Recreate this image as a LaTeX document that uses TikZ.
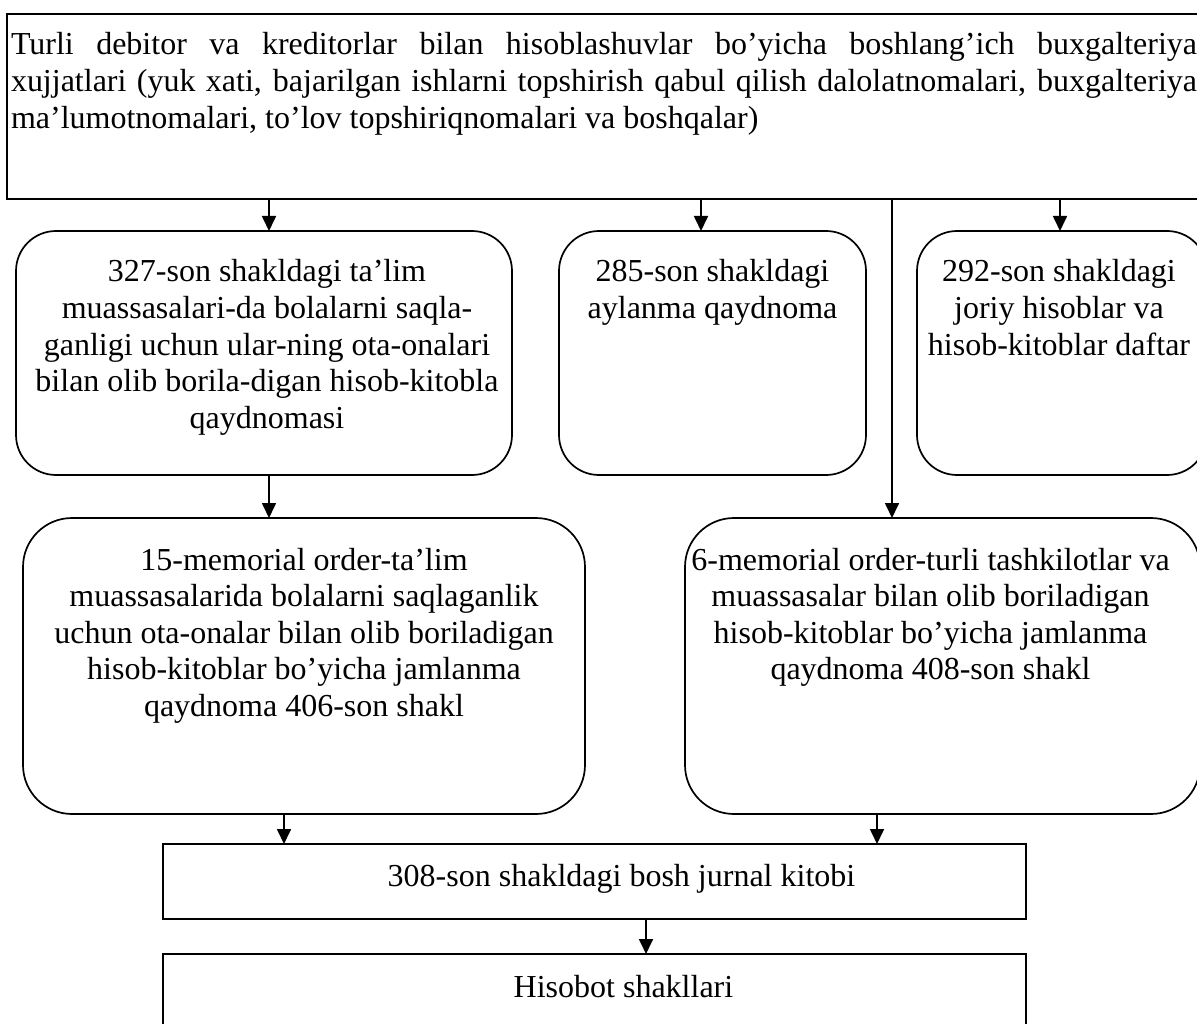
\documentclass[tikz,border=0pt]{standalone}
\usepackage{fontspec}
\setmainfont{Liberation Serif}
\usetikzlibrary{arrows.meta}

\tikzset{
  frame/.style={draw, line width=1.7pt, inner sep=0pt, outer sep=0pt},
  sqbox/.style={frame, rectangle},
  rbox/.style={frame, rectangle, rounded corners=#1},
  conn/.style={line width=1.7pt, -{Triangle[length=15pt,width=14pt]}},
  lbl/.style={inner sep=0pt, outer sep=0pt, anchor=base,
    font=\fontsize{32}{36.6}\selectfont}
}
\newcommand{\cellstack}[1]{\begin{tabular}[t]{@{}c@{}}#1\end{tabular}}

\begin{document}
\begin{tikzpicture}[x=1pt, y=-1pt]
  \useasboundingbox (0,0) rectangle (1197,1024);
  \clip (0,0) rectangle (1197,1024);

  % source documents
  \node[sqbox, minimum width=1208pt, minimum height=185pt] (top) at (611,106.5) {};
  \node[lbl, anchor=base west] (toptext) at ([xshift=4pt,yshift=-41pt]top.north west)
    {\begin{tabular}[t]{@{}l@{}}
      \makebox[1186pt][s]{Turli debitor va kreditorlar bilan hisoblashuvlar bo’yicha boshlang’ich buxgalteriya}\\
      \makebox[1186pt][s]{xujjatlari (yuk xati, bajarilgan ishlarni topshirish qabul qilish dalolatnomalari, buxgalteriya}\\
      ma’lumotnomalari, to’lov topshiriqnomalari va boshqalar)
    \end{tabular}};

  % registers
  \node[rbox=40pt, minimum width=496pt, minimum height=244pt] (b1) at (264,353) {};
  \node[lbl] (t1) at ([xshift=3pt,yshift=-51pt]b1.north)
    {\cellstack{327-son shakldagi ta’lim\\ muassasalari-da bolalarni saqla-\\ ganligi uchun ular-ning ota-onalari\\ bilan olib borila-digan hisob-kitobla\\ qaydnomasi}};

  \node[rbox=40pt, minimum width=307pt, minimum height=244pt] (b2) at (712.5,353) {};
  \node[lbl] (t2) at ([yshift=-51pt]b2.north)
    {\cellstack{285-son shakldagi\\ aylanma qaydnoma}};

  \node[rbox=40pt, minimum width=290pt, minimum height=244pt] (b4) at (1062,353) {};
  \node[lbl] (t4) at ([xshift=-3pt,yshift=-51pt]b4.north)
    {\cellstack{292-son shakldagi\\ joriy hisoblar va\\ hisob-kitoblar daftar}};

  % memorial orders
  \node[rbox=49pt, minimum width=562pt, minimum height=296pt] (b5) at (304,666) {};
  \node[lbl] (t5) at ([yshift=-52pt]b5.north)
    {\cellstack{15-memorial order-ta’lim\\ muassasalarida bolalarni saqlaganlik\\ uchun ota-onalar bilan olib boriladigan\\ hisob-kitoblar bo’yicha jamlanma\\ qaydnoma 406-son shakl}};

  \node[rbox=49pt, minimum width=515pt, minimum height=296pt] (b6) at (942.5,666) {};
  \node[lbl] (t6) at ([xshift=-12pt,yshift=-52pt]b6.north)
    {\cellstack{6-memorial order-turli tashkilotlar va\\ muassasalar bilan olib boriladigan\\ hisob-kitoblar bo’yicha jamlanma\\ qaydnoma 408-son shakl}};

  % journal and reports
  \node[sqbox, minimum width=863pt, minimum height=75pt] (b7) at (594.5,881.5) {};
  \node[lbl] (t7) at ([xshift=27pt,yshift=-42pt]b7.north) {308-son shakldagi bosh jurnal kitobi};

  \node[sqbox, minimum width=863pt, minimum height=96pt] (b8) at (594.5,1002) {};
  \node[lbl] (t8) at ([xshift=29pt,yshift=-43pt]b8.north) {Hisobot shakllari};

  % connector columns
  \coordinate (a1) at (269,0);
  \coordinate (a2) at (701,0);
  \coordinate (a3) at (892,0);
  \coordinate (a4) at (1060,0);
  \coordinate (a5) at (284,0);
  \coordinate (a6) at (877,0);
  \coordinate (a7) at (646,0);

  \draw[conn] (a1 |- top.south) -- (a1 |- b1.north);
  \draw[conn] (a2 |- top.south) -- (a2 |- b2.north);
  \draw[conn] (a3 |- top.south) -- (a3 |- b6.north);
  \draw[conn] (a4 |- top.south) -- (a4 |- b4.north);
  \draw[conn] (a1 |- b1.south) -- (a1 |- b5.north);
  \draw[conn] (a5 |- b5.south) -- (a5 |- b7.north);
  \draw[conn] (a6 |- b6.south) -- (a6 |- b7.north);
  \draw[conn] (a7 |- b7.south) -- (a7 |- b8.north);
\end{tikzpicture}
\end{document}
